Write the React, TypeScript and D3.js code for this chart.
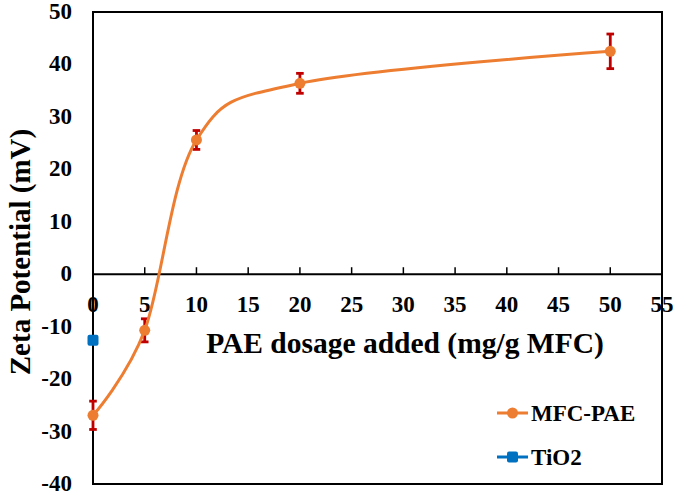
import React from "react";
import * as d3 from "d3";

const dosage = [0, 5, 10, 20, 50];
const mfcPaeValues = [-26.9, -10.7, 25.6, 36.4, 42.5];
const mfcPaeErrors = [2.7, 2.2, 1.8, 1.9, 3.3];
const tio2Dosage = [0];
const tio2Values = [-12.6];
const xTickValues = [0, 5, 10, 15, 20, 25, 30, 35, 40, 45, 50, 55];
const yTickValues = [50, 40, 30, 20, 10, 0, -10, -20, -30, -40];
const seriesNames = ["MFC-PAE", "TiO2"];

const W = 685;
const H = 494;
const FONT = "Liberation Serif";
const ORANGE = "#ED7D31";
const BLUE = "#0070C0";
const ERR = "#C00000";

export default function App() {
  const left = 93, right = 662, top = 12, bottom = 484;
  const x = d3.scaleLinear().domain([0, 55]).range([left, right]);
  const y = d3.scaleLinear().domain([-40, 50]).range([bottom, top]);
  const y0 = y(0);

  const pts: [number, number][] = dosage.map((d, i) => [x(d), y(mfcPaeValues[i])]);
  const line = d3.line().curve(d3.curveCardinal.tension(0));
  const path = line(pts) || "";

  return (
    <svg
      width={W}
      height={H}
      style={{ position: "absolute", left: 0, top: 0, background: "#fff" }}
    >
      <rect x={0} y={0} width={W} height={H} fill="#fff" />
      {/* plot frame */}
      <rect x={left} y={top} width={right - left} height={bottom - top} fill="none" stroke="#000" strokeWidth={2} />
      {/* x axis at zero */}
      <line x1={left} x2={right} y1={y0} y2={y0} stroke="#000" strokeWidth={2} />
      {xTickValues.map((t) => (
        <g key={"xt" + t}>
          <line x1={x(t)} x2={x(t)} y1={y0} y2={y0 - 7} stroke="#000" strokeWidth={1.5} />
          <text x={x(t)} y={y0 + 38} fontSize={23} textAnchor="middle" fill="#000" fontFamily={FONT} fontWeight="bold">
            {t}
          </text>
        </g>
      ))}
      {yTickValues.map((t) => (
        <text key={"yt" + t} x={72} y={y(t) - 1} dy="0.35em" fontSize={23} textAnchor="end" fill="#000" fontFamily={FONT} fontWeight="bold">
          {t}
        </text>
      ))}
      {/* axis titles */}
      <text x={405} y={353} fontSize={29.5} textAnchor="middle" fill="#000" fontFamily={FONT} fontWeight="bold">
        PAE dosage added (mg/g MFC)
      </text>
      <text
        transform="translate(30, 252) rotate(-90)"
        fontSize={29}
        textAnchor="middle"
        fill="#000"
        fontFamily={FONT}
        fontWeight="bold"
      >
        Zeta Potential (mV)
      </text>
      {/* error bars */}
      {dosage.map((d, i) => {
        const cx = x(d);
        const yt = y(mfcPaeValues[i] + mfcPaeErrors[i]);
        const yb = y(mfcPaeValues[i] - mfcPaeErrors[i]);
        return (
          <g key={"eb" + i} stroke={ERR} strokeWidth={2.8}>
            <line x1={cx} x2={cx} y1={yt} y2={yb} />
            <line x1={cx - 3.8} x2={cx + 3.8} y1={yt} y2={yt} />
            <line x1={cx - 3.8} x2={cx + 3.8} y1={yb} y2={yb} />
          </g>
        );
      })}
      {/* MFC-PAE smoothed line */}
      <path d={path} fill="none" stroke={ORANGE} strokeWidth={3} />
      {pts.map((p, i) => (
        <circle key={"m" + i} cx={p[0]} cy={p[1]} r={5.5} fill={ORANGE} />
      ))}
      {/* TiO2 */}
      {tio2Dosage.map((d, i) => (
        <rect key={"t" + i} x={x(d) - 5.5} y={y(tio2Values[i]) - 5.5} width={11} height={11} rx={2} fill={BLUE} />
      ))}
      {/* legend */}
      <g>
        <line x1={497} x2={528} y1={413} y2={413} stroke={ORANGE} strokeWidth={3} />
        <circle cx={512.5} cy={413} r={5.5} fill={ORANGE} />
        <text x={531} y={413} dy="0.35em" fontSize={23} fill="#000" fontFamily={FONT} fontWeight="bold">
          {seriesNames[0]}
        </text>
        <line x1={497} x2={528} y1={457} y2={457} stroke={BLUE} strokeWidth={3} />
        <rect x={507} y={451.5} width={11} height={11} rx={2} fill={BLUE} />
        <text x={531} y={457} dy="0.35em" fontSize={23} fill="#000" fontFamily={FONT} fontWeight="bold">
          {seriesNames[1]}
        </text>
      </g>
    </svg>
  );
}
